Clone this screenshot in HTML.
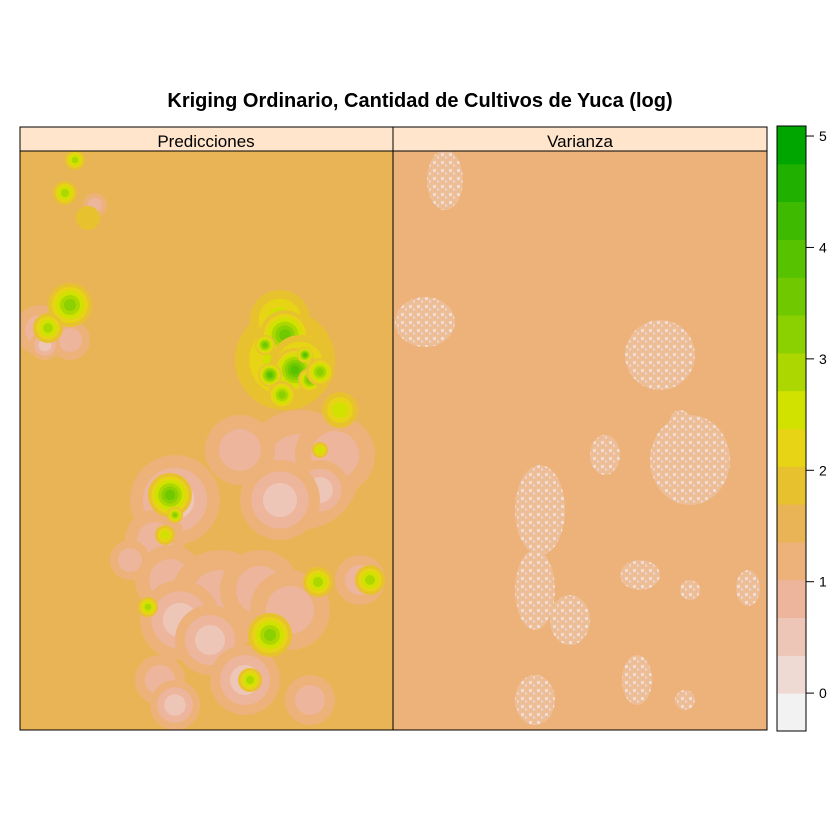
<!DOCTYPE html>
<html><head><meta charset="utf-8"><style>
body{margin:0;background:#fff;}
svg{display:block;font-family:"Liberation Sans",sans-serif;}
</style></head><body>
<svg id="c" width="840" height="840">
<defs>
<pattern id="dots" width="8" height="8" patternUnits="userSpaceOnUse">
<rect width="8" height="8" fill="#EDBD95"/>
<rect x="1" y="1" width="3" height="3" fill="#F1DDD5"/>
<rect x="5" y="4" width="2" height="3" fill="#EFD0C4"/>
</pattern>
<clipPath id="clipL"><rect x="20" y="151" width="373" height="579"/></clipPath>
<clipPath id="clipR"><rect x="393" y="151" width="374" height="579"/></clipPath>
</defs>
<text x="420" y="107" text-anchor="middle" font-size="20" font-weight="bold">Kriging Ordinario, Cantidad de Cultivos de Yuca (log)</text>
<g id="left" clip-path="url(#clipL)"></g>
<g id="right" clip-path="url(#clipR)"></g>
<rect x="20" y="127" width="373" height="24" fill="#FFE5CC" stroke="#000"/>
<rect x="393" y="127" width="374" height="24" fill="#FFE5CC" stroke="#000"/>
<text x="206" y="147" text-anchor="middle" font-size="17">Predicciones</text>
<text x="580" y="147" text-anchor="middle" font-size="17">Varianza</text>
<rect x="20" y="151" width="373" height="579" fill="none" stroke="#000"/>
<rect x="393" y="151" width="374" height="579" fill="none" stroke="#000"/>
<g id="cbar"></g>
</svg>
<script>
const colors=["#F2F2F2","#EFD9D3","#EEC6B8","#EDB59C","#ECB27A","#E9B455","#E8C22E","#E6D415","#D2E200","#ADD700","#8BD000","#70C900","#56C200","#3EBB00","#1FB000","#00A600"];
const tickValues=[0,1,2,3,4,5];
const zMin=-0.34, zMax=5.09;
const predBgLevel=5, varBgLevel=4;
const pinkX=[300,240,335,175,155,170,220,180,260,290,210,245,160,175,310,40,70,360,130,320,280,95,45];
const pinkY=[470,450,455,500,540,580,600,620,590,610,640,680,680,705,700,330,340,580,560,490,500,205,345];
const pinkR=[60,35,40,45,30,35,50,40,40,40,35,35,25,25,25,25,20,25,20,30,40,12,15];
const pinkL=[3,3,3,2,3,3,3,2,3,3,2,2,3,2,3,3,3,3,3,2,2,3,2];
const greenX=[285,280,285,300,295,270,310,265,305,282,320,70,48,170,270,250,318,370,148,75,65,88,340,320,165,175];
const greenY=[360,320,335,365,370,375,380,345,355,395,372,305,328,495,635,680,582,580,607,160,193,218,410,450,535,515];
const greenR=[50,30,25,30,22,12,12,10,8,14,14,22,15,22,22,12,15,15,10,10,12,12,18,8,10,8];
const greenL=[8,8,11,9,12,12,11,11,12,10,10,10,9,11,10,9,9,9,9,9,9,6,8,8,8,10];
const vX=[445,425,660,605,690,540,535,570,640,690,748,637,535,685,680];
const vY=[180,322,355,455,460,510,590,620,575,590,588,680,700,700,420];
const vRx=[18,30,35,15,40,25,20,20,20,10,12,15,20,10,10];
const vRy=[30,25,35,20,45,45,40,25,15,10,18,25,25,10,10];

const NS="http://www.w3.org/2000/svg";
function mk(t,a,p){const e=document.createElementNS(NS,t);for(const k in a)e.setAttribute(k,a[k]);p.appendChild(e);return e;}
const L=document.getElementById('left'),R=document.getElementById('right'),CB=document.getElementById('cbar');
const bgL=mk('rect',{x:20,y:151,width:373,height:579,fill:colors[predBgLevel]},L);


function blob(x,y,r,lvl,parent){
  const steps=Math.abs(lvl-predBgLevel),dir=lvl>predBgLevel?1:-1;
  for(let k=1;k<=steps;k++){
    const c=mk('circle',{cx:x,cy:y,r:r*(1-(k-1)/(steps+0.5)),fill:colors[predBgLevel+dir*k]},parent);
    
    
  }
}
pinkX.forEach((x,i)=>blob(x,pinkY[i],pinkR[i],pinkL[i],L));
greenX.forEach((x,i)=>blob(x,greenY[i],greenR[i],greenL[i],L));
const bgR=mk('rect',{x:393,y:151,width:374,height:579,fill:colors[varBgLevel]},R);


vX.forEach((x,i)=>{
  const e=mk('ellipse',{cx:x,cy:vY[i],rx:vRx[i],ry:vRy[i],fill:'url(#dots)'},R);
  
  
});
const cbTop=126,cbBot=731,cbX=777,cbW=29;
const yS=v=>cbBot-(v-zMin)/(zMax-zMin)*(cbBot-cbTop);
const bh=(cbBot-cbTop)/colors.length;
colors.forEach((c,i)=>{
  const r=mk('rect',{x:cbX,y:cbBot-(i+1)*bh,width:cbW,height:bh+0.5,fill:c},CB);
  
  
});
mk('rect',{x:cbX,y:cbTop,width:cbW,height:cbBot-cbTop,fill:'none',stroke:'#000'},CB);
tickValues.forEach(v=>{
  const y=yS(v);
  mk('line',{x1:cbX+cbW,x2:cbX+cbW+8,y1:y,y2:y,stroke:'#000'},CB);
  const t=mk('text',{x:cbX+cbW+13,y:y+5,'font-size':14},CB);
  t.textContent=v;
  
  
});
</script>
</body></html>
